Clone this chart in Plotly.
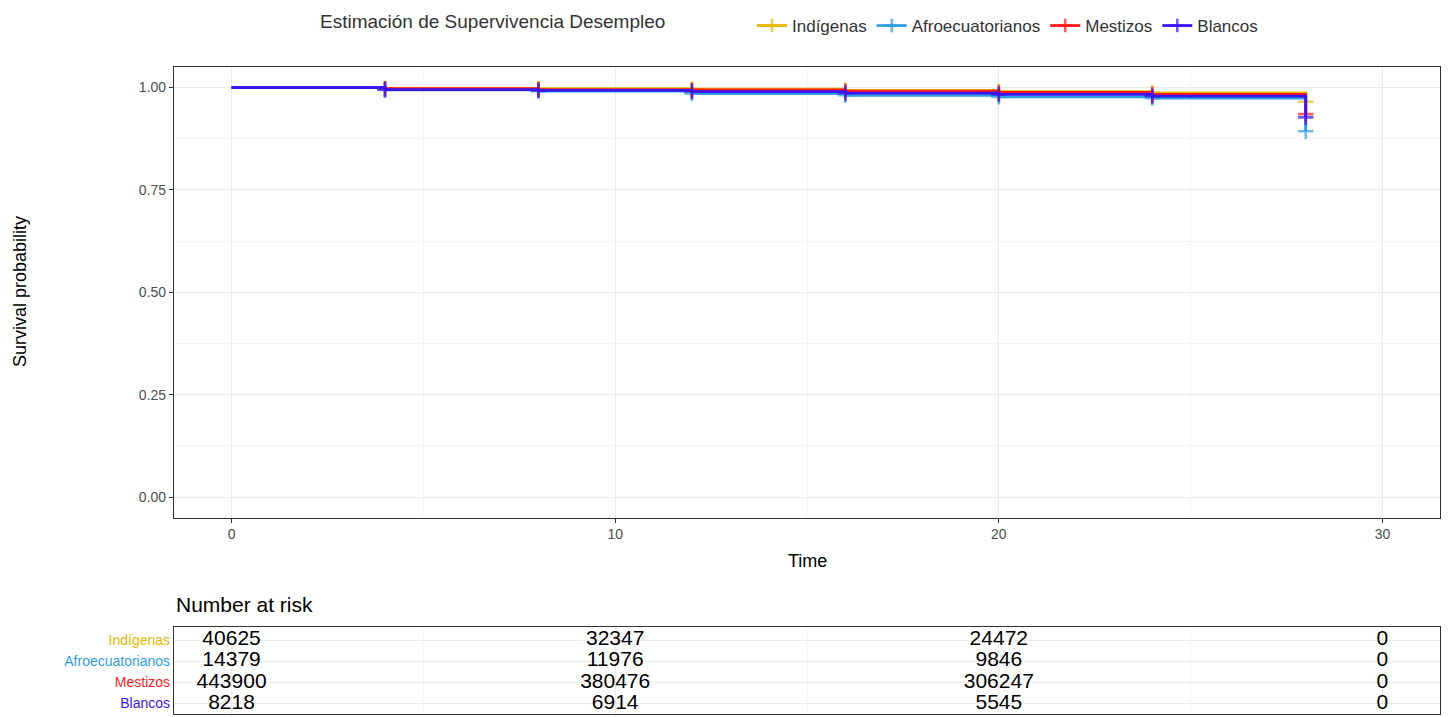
import plotly.graph_objects as go

# ---------------- data ----------------
groups = ["Indígenas", "Afroecuatorianos", "Mestizos", "Blancos"]
colors = ["#E7B800", "#2E9FDF", "#FF1A1A", "#3A14F0"]

times = [0, 4, 8, 12, 16, 20, 24, 28]
surv_indigenas = [1.000, 0.998, 0.997, 0.996, 0.993, 0.990, 0.987, 0.965]
surv_afro = [1.000, 0.994, 0.991, 0.985, 0.981, 0.977, 0.974, 0.893]
surv_mestizos = [1.000, 0.997, 0.995, 0.994, 0.991, 0.988, 0.983, 0.935]
surv_blancos = [1.000, 0.995, 0.993, 0.990, 0.986, 0.983, 0.979, 0.927]
surv_all = [surv_indigenas, surv_afro, surv_mestizos, surv_blancos]

risk_times = [0, 10, 20, 30]
risk_indigenas = [40625, 32347, 24472, 0]
risk_afro = [14379, 11976, 9846, 0]
risk_mestizos = [443900, 380476, 306247, 0]
risk_blancos = [8218, 6914, 5545, 0]
risk_all = [risk_indigenas, risk_afro, risk_mestizos, risk_blancos]

x_ticks = [0, 10, 20, 30]
y_ticks = [0, 0.25, 0.5, 0.75, 1.0]
y_ticklabels = ["0.00", "0.25", "0.50", "0.75", "1.00"]

legend_title = "Estimación de Supervivencia Desempleo"

# ---------------- figure ----------------
W, H = 1453, 717
fig = go.Figure()

for g, c, s in zip(groups, colors, surv_all):
    sizes = [0] + [11] * (len(times) - 1)
    fig.add_trace(go.Scatter(
        x=times, y=s, name=g, mode="lines+markers",
        line=dict(color=c, width=2.8, shape="hv"),
        marker=dict(symbol="cross-thin", size=sizes, color=c,
                    line=dict(color=c, width=2.6)),
        xaxis="x", yaxis="y", showlegend=True,
    ))

n = len(groups)
row_pos = [n - i for i in range(n)]
for i, (g, r) in enumerate(zip(groups, risk_all)):
    fig.add_trace(go.Scatter(
        x=risk_times, y=[row_pos[i]] * len(risk_times),
        text=[str(v) for v in r], mode="text",
        textfont=dict(size=21, color="black", family="Liberation Sans, Arial"),
        textposition="middle center",
        xaxis="x2", yaxis="y2", showlegend=False, hoverinfo="skip",
    ))

px_x = lambda p: p / W
px_y = lambda p: 1 - p / H

xdom = [px_x(174), px_x(1440)]
axis_common = dict(
    showline=True, linecolor="#333333", linewidth=1.2, mirror=True,
    zeroline=False, gridcolor="#EBEBEB", gridwidth=1,
)

fig.update_layout(
    width=W, height=H,
    margin=dict(l=0, r=0, t=0, b=0),
    paper_bgcolor="white", plot_bgcolor="white",
    font=dict(family="Liberation Sans, Arial", color="#333333"),
    xaxis=dict(
        domain=xdom, range=[-1.5, 31.5], anchor="y",
        tickvals=x_ticks, ticks="outside", ticklen=4, tickcolor="#333333",
        tickfont=dict(size=14, color="#4D4D4D"),
        minor=dict(tickvals=[5, 15, 25], showgrid=True, gridcolor="#F4F4F4", ticks=""),
        automargin=False, **axis_common,
    ),
    yaxis=dict(
        domain=[px_y(517.5), px_y(67)], range=[-0.05, 1.05], anchor="x",
        tickvals=y_ticks, ticktext=y_ticklabels, ticks="outside", ticklen=4,
        tickcolor="#333333", tickfont=dict(size=14, color="#4D4D4D"),
        minor=dict(tickvals=[0.125, 0.375, 0.625, 0.875], showgrid=True,
                   gridcolor="#F4F4F4", ticks=""),
        automargin=False, **axis_common,
    ),
    xaxis2=dict(
        domain=xdom, range=[-1.5, 31.5], anchor="y2",
        tickvals=x_ticks, showticklabels=False, ticks="",
        minor=dict(tickvals=[5, 15, 25], showgrid=True, gridcolor="#F4F4F4", ticks=""),
        automargin=False, **axis_common,
    ),
    yaxis2=dict(
        domain=[px_y(714), px_y(627)], range=[0.5, 4.62], anchor="x2",
        tickvals=row_pos,
        ticktext=[f"<span style='color:{c}'>{g}</span>" for g, c in zip(groups, colors)],
        ticks="", tickfont=dict(size=14),
        automargin=False, **axis_common,
    ),
    legend=dict(
        orientation="h", x=px_x(752), y=px_y(8), xanchor="left", yanchor="top",
        font=dict(size=17, color="#333333"), bgcolor="rgba(0,0,0,0)",
        itemwidth=30, tracegroupgap=0,
    ),
    annotations=[
        dict(text=legend_title, x=px_x(318), y=px_y(22), xref="paper", yref="paper",
             xanchor="left", yanchor="middle", showarrow=False,
             font=dict(size=19, color="#333333")),
        dict(text="Time", x=(xdom[0] + xdom[1]) / 2, y=px_y(561), xref="paper", yref="paper",
             xanchor="center", yanchor="middle", showarrow=False,
             font=dict(size=18, color="black")),
        dict(text="Survival probability", x=px_x(20), y=px_y(292), xref="paper", yref="paper",
             xanchor="center", yanchor="middle", showarrow=False, textangle=-90,
             font=dict(size=18, color="black")),
        dict(text="Number at risk", x=px_x(174), y=px_y(604), xref="paper", yref="paper",
             xanchor="left", yanchor="middle", showarrow=False,
             font=dict(size=21, color="black")),
    ],
)

fig.write_html("out.html")
